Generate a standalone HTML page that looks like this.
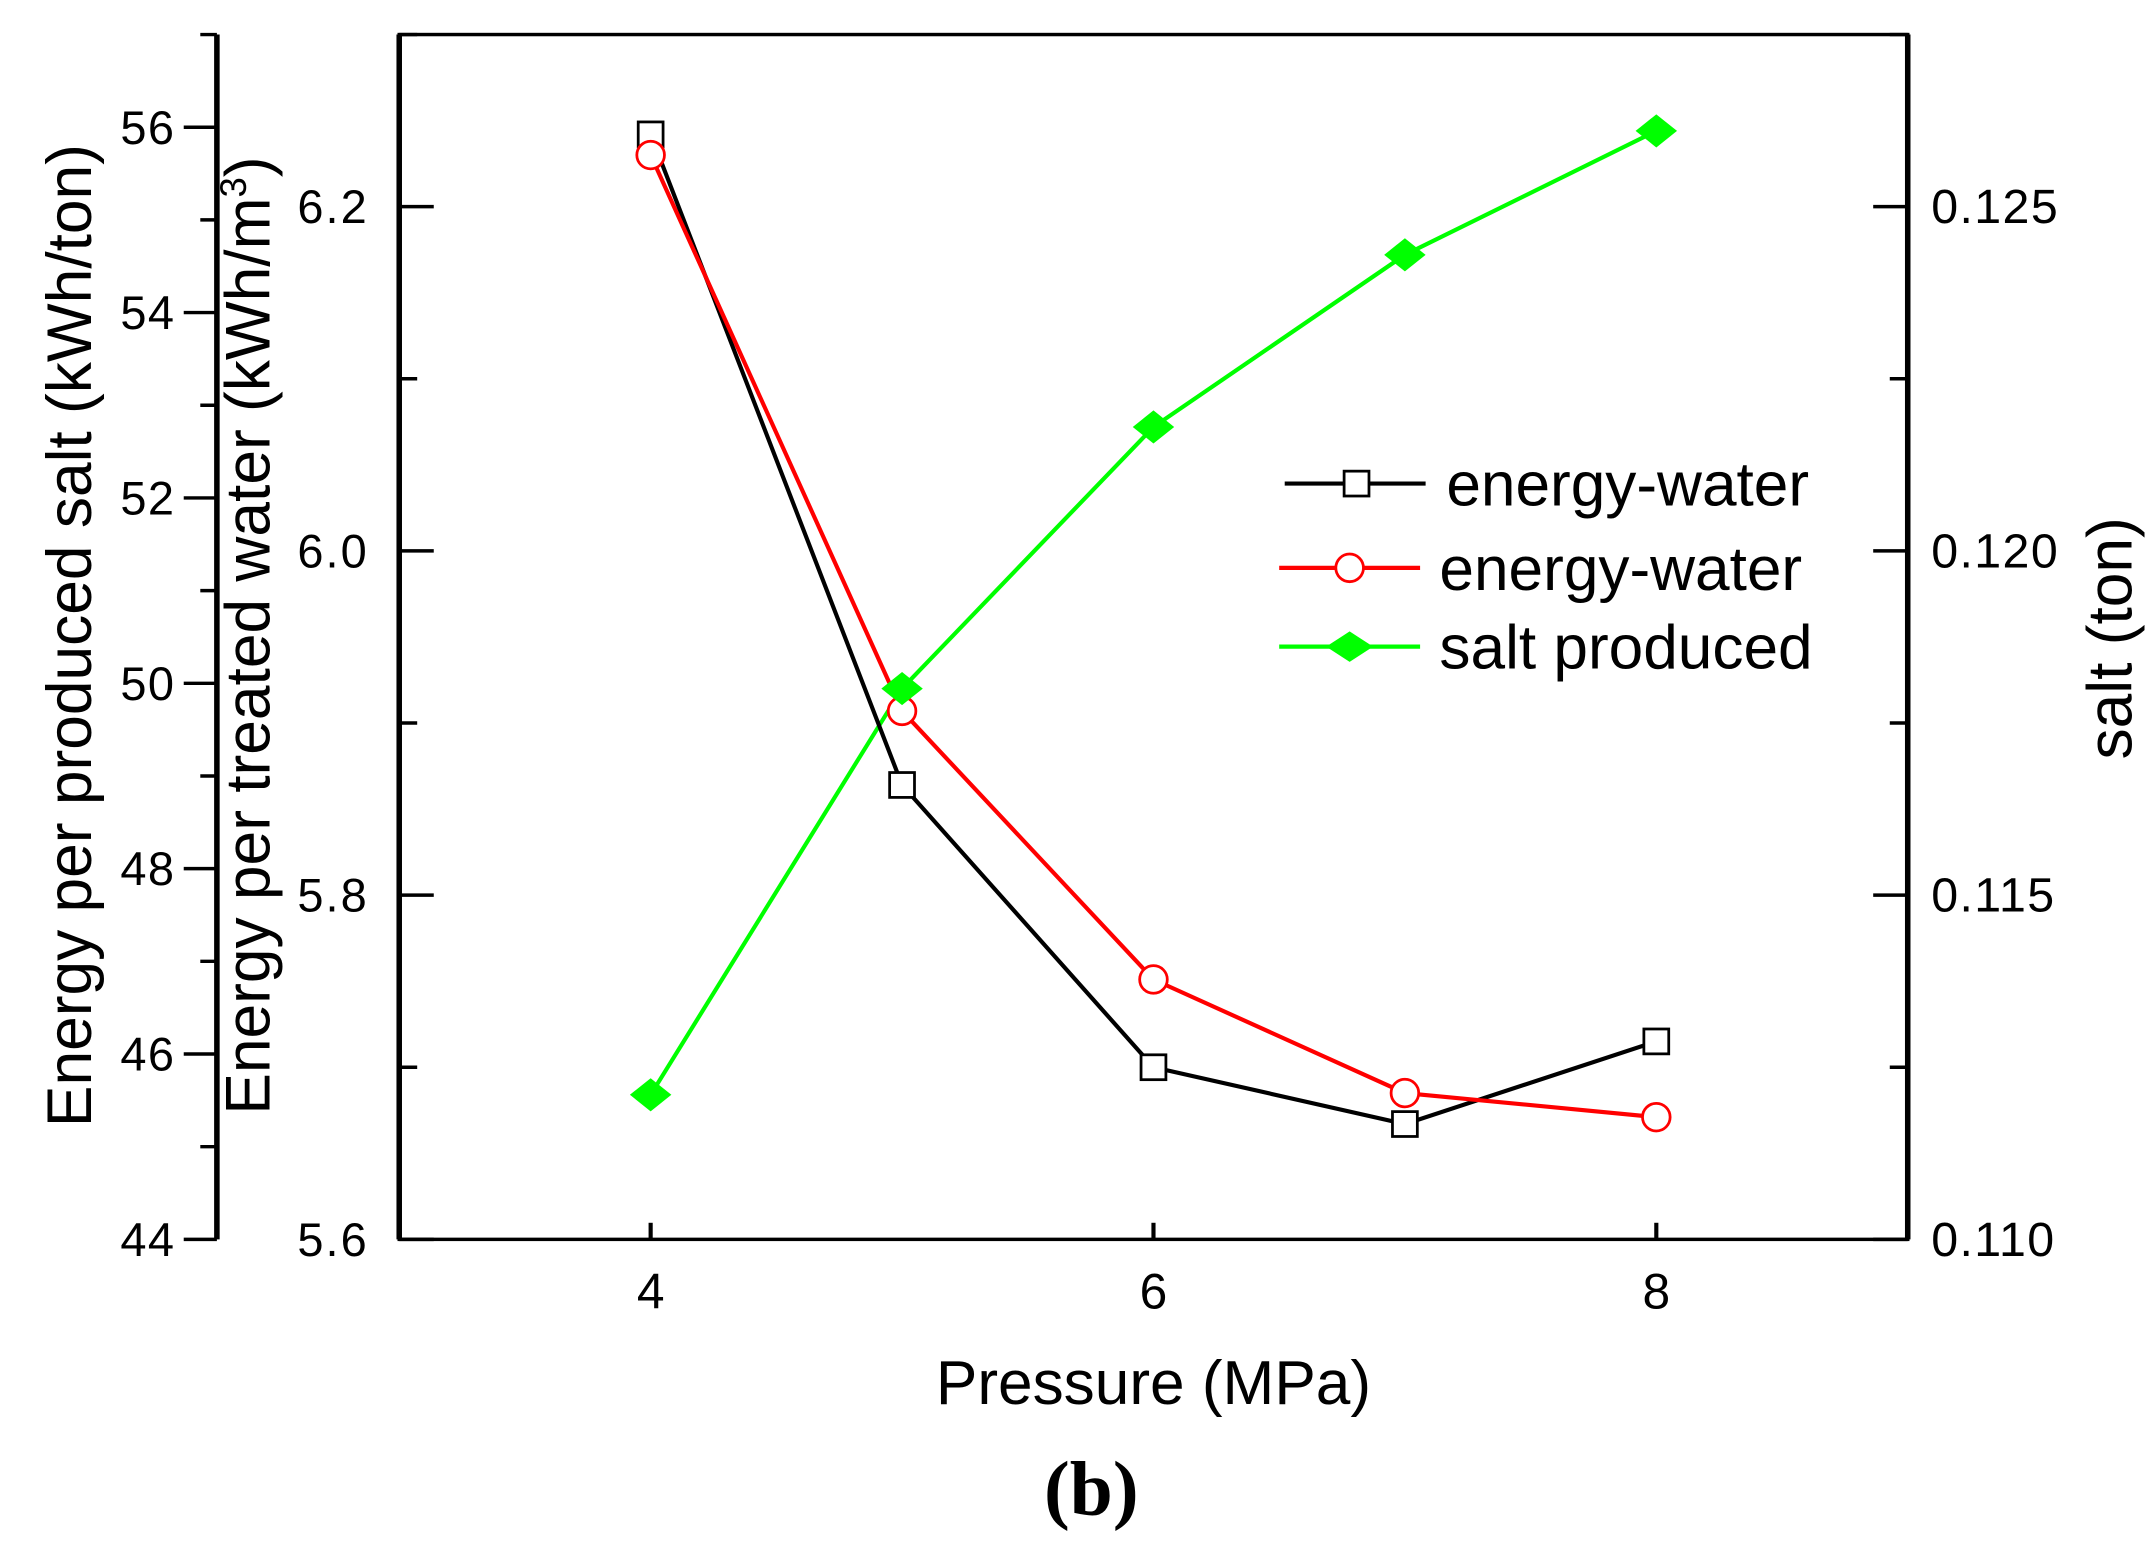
<!DOCTYPE html>
<html><head><meta charset="utf-8"><style>
html,body{margin:0;padding:0;background:#fff;}
svg{display:block;}
text{font-family:"Liberation Sans",Arial,sans-serif;fill:#000;}
</style></head><body>
<svg id="chart" width="2155" height="1553" viewBox="0 0 1560 1124" preserveAspectRatio="none" xmlns="http://www.w3.org/2000/svg">
<g id="axes"></g>
<g id="series"></g>
<g id="legend">
  <line x1="930" y1="350" x2="1032" y2="350" stroke="#000" stroke-width="3"/>
  <rect x="973" y="341" width="18" height="18" fill="#fff" stroke="#000" stroke-width="2"/>
  <text x="1047" y="366" font-size="45">energy-water</text>
  <line x1="926" y1="411" x2="1028" y2="411" stroke="#f00" stroke-width="3"/>
  <circle cx="977" cy="411" r="10" fill="#fff" stroke="#f00" stroke-width="2"/>
  <text x="1042" y="427" font-size="45">energy-water</text>
  <line x1="926" y1="468" x2="1028" y2="468" stroke="#0f0" stroke-width="3"/>
  <polygon points="960,468 977,457 994,468 977,479" fill="#0f0"/>
  <text x="1042" y="484" font-size="45">salt produced</text>
</g>
<text transform="translate(66,460) rotate(-90) scale(0.98,1)" text-anchor="middle" font-size="46">Energy per produced salt (kWh/ton)</text>
<text transform="translate(195,460) rotate(-90) scale(0.98,1)" text-anchor="middle" font-size="46">Energy per treated water (kWh/m<tspan dy="-17" font-size="27">3</tspan><tspan dy="17">)</tspan></text>
<text transform="translate(1543,462) rotate(-90) scale(0.98,1)" text-anchor="middle" font-size="46">salt (ton)</text>
<text x="835" y="1016" text-anchor="middle" font-size="45">Pressure (MPa)</text>
<text x="790" y="1096" text-anchor="middle" font-size="56" font-weight="bold" style="font-family:'Liberation Serif',serif">(b)</text>
</svg>
<script>
const pressure = [4, 5, 6, 7, 8];
const energyWaterBlack = [6.242, 5.864, 5.700, 5.667, 5.715];
const energyWaterRed = [6.230, 5.907, 5.751, 5.685, 5.671];
const saltProduced = [0.1121, 0.1180, 0.1218, 0.1243, 0.1261];
const xTicks = [4, 6, 8];
const midTicks = ["5.6", "5.8", "6.0", "6.2"];
const leftTicks = ["44", "46", "48", "50", "52", "54", "56"];
const rightTicks = ["0.110", "0.115", "0.120", "0.125"];

const L = 289, R = 1381, T = 25, B = 897;
const sx = v => L + (v - 3) / 6 * (R - L);
const sMid = v => B - (v - 5.6) / 0.7 * (B - T);
const sLeft = v => B - (v - 44) / 13 * (B - T);
const sRight = v => B - (v - 0.110) / 0.0175 * (B - T);
const NS = "http://www.w3.org/2000/svg";
function mk(tag, attrs, parent) {
  const e = document.createElementNS(NS, tag);
  for (const k in attrs) e.setAttribute(k, attrs[k]);
  parent.appendChild(e);
  return e;
}
const ax = document.getElementById('axes');
const box = mk('rect', {x: L, y: T, width: R - L, height: B - T, fill: 'none', stroke: '#000', 'stroke-width': 2.5}, ax);


mk('line', {x1: L, y1: T, x2: L, y2: B, stroke: '#000', 'stroke-width': 4}, ax);
const lo = mk('line', {x1: 157, y1: T, x2: 157, y2: B, stroke: '#000', 'stroke-width': 4}, ax);


for (let v = 44; v <= 57; v++) {
  const y = sLeft(v), major = v % 2 === 0;
  mk('line', {x1: 157, y1: y, x2: major ? 133 : 145, y2: y, stroke: '#000', 'stroke-width': 2.5}, ax);
}
leftTicks.forEach(s => {
  const t = mk('text', {x: 127, y: sLeft(+s) + 12, 'text-anchor': 'end', 'font-size': 34, 'letter-spacing': 1}, ax);
  t.textContent = s;
  
  
});
for (let i = 0; i <= 7; i++) {
  const v = 5.6 + i * 0.1, y = sMid(v), major = i % 2 === 0;
  mk('line', {x1: L, y1: y, x2: L + (major ? 25 : 13), y2: y, stroke: '#000', 'stroke-width': 2.5}, ax);
  mk('line', {x1: R, y1: y, x2: R - (major ? 25 : 13), y2: y, stroke: '#000', 'stroke-width': 2.5}, ax);
}
midTicks.forEach(s => {
  const t = mk('text', {x: 267, y: sMid(+s) + 12, 'text-anchor': 'end', 'font-size': 34, 'letter-spacing': 1.5}, ax);
  t.textContent = s;
  
  
});
rightTicks.forEach(s => {
  const t = mk('text', {x: 1398, y: sRight(+s) + 12, 'font-size': 35, 'letter-spacing': 1}, ax);
  t.textContent = s;
  
  
});
mk('line', {x1: R, y1: T, x2: R, y2: B, stroke: '#000', 'stroke-width': 4}, ax);
xTicks.forEach(v => {
  mk('line', {x1: sx(v), y1: B, x2: sx(v), y2: B - 12, stroke: '#000', 'stroke-width': 3}, ax);
  const t = mk('text', {x: sx(v), y: B + 50, 'text-anchor': 'middle', 'font-size': 36}, ax);
  t.textContent = v;
  
  
});
const sg = document.getElementById('series');
function line(vals, sy, color, name) {
  const p = mk('polyline', {points: vals.map((v, i) => sx(pressure[i]) + ',' + sy(v)).join(' '), fill: 'none', stroke: color, 'stroke-width': 3}, sg);
  
  
}
line(saltProduced, sRight, '#0f0', 'salt-produced-line');
line(energyWaterBlack, sMid, '#000', 'energy-water-black-line');
line(energyWaterRed, sMid, '#f00', 'energy-water-red-line');
energyWaterBlack.forEach((v, i) => {
  const m = mk('rect', {x: sx(pressure[i]) - 9, y: sMid(v) - 9, width: 18, height: 18, fill: '#fff', stroke: '#000', 'stroke-width': 2}, sg);
  
  
});
energyWaterRed.forEach((v, i) => {
  const m = mk('circle', {cx: sx(pressure[i]), cy: sMid(v), r: 10, fill: '#fff', stroke: '#f00', 'stroke-width': 2}, sg);
  
  
});
saltProduced.forEach((v, i) => {
  const x = sx(pressure[i]), y = sRight(v);
  const m = mk('polygon', {points: `${x-15},${y} ${x},${y-12} ${x+15},${y} ${x},${y+12}`, fill: '#0f0'}, sg);
  
  
});
</script>
</body></html>
